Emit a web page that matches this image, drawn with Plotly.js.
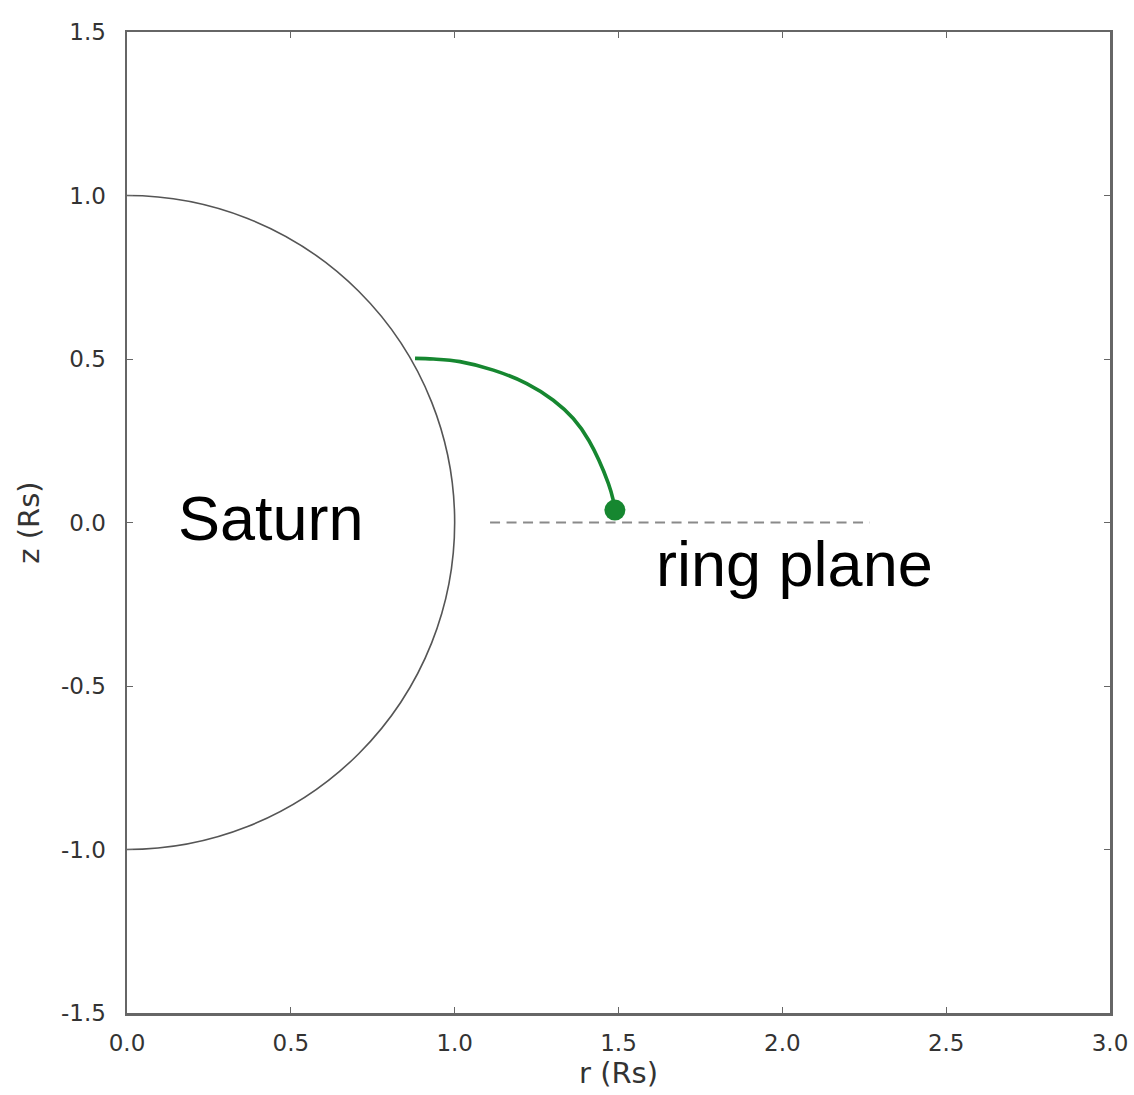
<!DOCTYPE html>
<html>
<head>
<meta charset="utf-8">
<script src="https://cdn.plot.ly/plotly-3.0.1.min.js"></script>
<style>html,body{margin:0;padding:0;background:#fff;}#chart{width:1134px;height:1095px;}</style>
</head>
<body>
<div id="chart"></div>
<script>
// Green trajectory (r, z) in Saturn radii
const pathR = [0.879, 0.935, 1.016, 1.118, 1.220, 1.301, 1.362, 1.410, 1.469, 1.484];
const pathZ = [0.502, 0.500, 0.492, 0.466, 0.425, 0.374, 0.318, 0.250, 0.120, 0.068];
// End point marker
const endR = [1.489];
const endZ = [0.038];
// Ring plane dashed line
const ringR = [1.108, 2.267];
const ringZ = [0.0, 0.0];
// Saturn outline (unit circle, radius 1)
const saturnRadius = 1.0;
// Ticks
const xTickVals = [0.0, 0.5, 1.0, 1.5, 2.0, 2.5, 3.0];
const xTickText = ["0.0", "0.5", "1.0", "1.5", "2.0", "2.5", "3.0"];
const yTickVals = [-1.5, -1.0, -0.5, 0.0, 0.5, 1.0, 1.5];
const yTickText = ["-1.5", "-1.0", "-0.5", "0.0", "0.5", "1.0", "1.5"];
// Labels
const labels = [
  {text: "Saturn", r: 0.44, z: 0.015},
  {text: "ring plane", r: 2.037, z: -0.128}
];

const green = "rgb(22,135,48)";
const traces = [
  {x: ringR, y: ringZ, mode: "lines", line: {color: "#8a8a8a", width: 2.2, dash: "10px,6.5px"}, hoverinfo: "skip"},
  {x: pathR, y: pathZ, mode: "lines", line: {color: green, width: 3.6, shape: "spline", smoothing: 1}, hoverinfo: "skip"},
  {x: endR, y: endZ, mode: "markers", marker: {color: green, size: 21}, hoverinfo: "skip"}
];

const tickFont = {family: "DejaVu Sans", size: 23, color: "#333"};
const titleFont = {family: "DejaVu Sans", size: 29, color: "#333"};

const layout = {
  width: 1134, height: 1095,
  margin: {l: 127, r: 24, t: 32, b: 82},
  paper_bgcolor: "#fff", plot_bgcolor: "#fff",
  showlegend: false,
  xaxis: {
    range: [0, 3], tickvals: xTickVals, ticktext: xTickText,
    showgrid: false, zeroline: false,
    showline: true, linecolor: "#666", linewidth: 2.5, mirror: "ticks",
    ticks: "inside", ticklen: 6, tickcolor: "#666", tickwidth: 1,
    tickfont: tickFont, ticklabelstandoff: 8,
    title: {text: "r (Rs)", font: titleFont, standoff: 6}
  },
  yaxis: {
    range: [-1.5, 1.5], tickvals: yTickVals, ticktext: yTickText,
    showgrid: false, zeroline: false,
    showline: true, linecolor: "#666", linewidth: 2.5, mirror: "ticks",
    ticks: "inside", ticklen: 6, tickcolor: "#666", tickwidth: 1,
    tickfont: tickFont, ticklabelstandoff: 14,
    title: {text: "z (Rs)", font: titleFont, standoff: 13}
  },
  shapes: [
    {type: "circle", xref: "x", yref: "y",
     x0: -saturnRadius, x1: saturnRadius, y0: -saturnRadius, y1: saturnRadius,
     line: {color: "#555", width: 1.6}, fillcolor: "rgba(0,0,0,0)", layer: "below"}
  ],
  annotations: labels.map(l => ({
    x: l.r, y: l.z, xref: "x", yref: "y", text: l.text, showarrow: false,
    xanchor: "center", yanchor: "middle",
    font: {family: "Liberation Sans", size: 63, color: "#000"}
  }))
};

Plotly.newPlot("chart", traces, layout, {staticPlot: true, displayModeBar: false});
</script>
</body>
</html>
